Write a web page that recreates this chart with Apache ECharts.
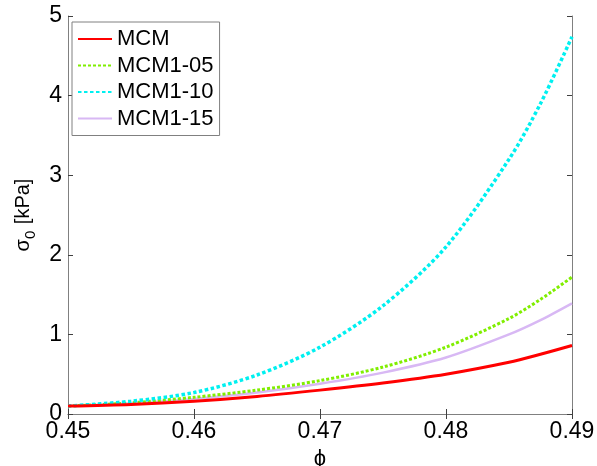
<!DOCTYPE html>
<html>
<head>
<meta charset="utf-8">
<script src="https://cdn.jsdelivr.net/npm/echarts@6/dist/echarts.min.js"></script>
<style>html,body{margin:0;padding:0;background:#fff}#c{width:597px;height:466px}</style>
</head>
<body>
<div id="c"></div>
<script>
const phi    = [0.45, 0.455, 0.46, 0.465, 0.47, 0.475, 0.48, 0.485, 0.4875, 0.49];
const mcm    = [0.10, 0.12, 0.16, 0.22, 0.30, 0.39, 0.50, 0.65, 0.75, 0.86];
const mcm105 = [0.10, 0.14, 0.21, 0.30, 0.42, 0.59, 0.84, 1.20, 1.44, 1.72];
const mcm110 = [0.10, 0.16, 0.27, 0.49, 0.84, 1.36, 2.10, 3.20, 3.90, 4.74];
const mcm115 = [0.10, 0.135, 0.19, 0.27, 0.38, 0.52, 0.71, 1.00, 1.18, 1.39];
const names = ['MCM', 'MCM1-05', 'MCM1-10', 'MCM1-15'];
const xTicks = [0.45, 0.46, 0.47, 0.48, 0.49];
const yTicks = [0, 1, 2, 3, 4, 5];

const FONT = '"Liberation Sans", Arial, sans-serif';
const pair = (ys) => phi.map((x, i) => [x, ys[i]]);
const chart = echarts.init(document.getElementById('c'), null, {renderer: 'canvas'});

const axisLine = {show: true, lineStyle: {color: '#808080', width: 1}};
const axisTick = {show: true, inside: true, length: 5, lineStyle: {color: '#404040'}};

chart.setOption({
  animation: false,
  backgroundColor: '#fff',
  grid: {left: 68, right: 25, top: 16, bottom: 52, containLabel: false, outerBoundsMode: 'none'},
  legend: {
    orient: 'vertical', left: 72, top: 22,
    data: names,
    backgroundColor: '#fff',
    borderColor: '#808080', borderWidth: 1,
    padding: [6, 6, 6, 5],
    itemWidth: 34, itemHeight: 14, itemGap: 4.5, itemTextGap: 4,
    itemStyle: {opacity: 0},
    textStyle: {fontFamily: FONT, fontSize: 22, color: '#000', lineHeight: 22}
  },
  xAxis: [{
    type: 'value', min: xTicks[0], max: xTicks[xTicks.length - 1], interval: 0.01,
    axisLine, axisTick, splitLine: {show: false},
    axisLabel: {color: '#000', fontFamily: FONT, fontSize: 23, margin: 6,
      formatter: v => v.toFixed(2)},
    name: 'ϕ', nameLocation: 'middle', nameGap: 32,
    nameTextStyle: {color: '#000', fontFamily: FONT, fontSize: 22}
  }, {
    type: 'value', position: 'top', min: xTicks[0], max: xTicks[xTicks.length - 1], interval: 0.01,
    axisLine, axisTick, axisLabel: {show: false}, splitLine: {show: false}
  }],
  yAxis: [{
    type: 'value', min: yTicks[0], max: yTicks[yTicks.length - 1], interval: 1,
    axisLine, axisTick, splitLine: {show: false},
    axisLabel: {color: '#000', fontFamily: FONT, fontSize: 23, margin: 6},
    name: '{a|σ}{b|0}{a| [kPa]}', nameLocation: 'middle', nameGap: 29, nameRotate: 90,
    nameTextStyle: {color: '#000', fontFamily: FONT, fontSize: 20,
      rich: {
        a: {fontFamily: FONT, fontSize: 20, color: '#000', lineHeight: 30, verticalAlign: 'middle'},
        b: {fontFamily: FONT, fontSize: 15, color: '#000', lineHeight: 30, verticalAlign: 'bottom', padding: [0, 1, 0, 0]}
      }}
  }, {
    type: 'value', position: 'right', min: yTicks[0], max: yTicks[yTicks.length - 1], interval: 1,
    axisLine, axisTick, axisLabel: {show: false}, splitLine: {show: false}
  }],
  series: [
    {name: names[0], type: 'line', data: pair(mcm), smooth: 0.3, showSymbol: false, symbol: 'none', z: 4,
      lineStyle: {color: '#ff0000', width: 3}, itemStyle: {color: '#ff0000'}},
    {name: names[1], type: 'line', data: pair(mcm105), smooth: 0.3, showSymbol: false, symbol: 'none', z: 3,
      lineStyle: {color: '#80ee00', width: 3, type: [3, 2]}, itemStyle: {color: '#80ee00'}},
    {name: names[2], type: 'line', data: pair(mcm110), smooth: 0.3, showSymbol: false, symbol: 'none', z: 3,
      lineStyle: {color: '#00f0f0', width: 3.5, type: [3.5, 2.5]}, itemStyle: {color: '#00f0f0'}},
    {name: names[3], type: 'line', data: pair(mcm115), smooth: 0.3, showSymbol: false, symbol: 'none', z: 2,
      lineStyle: {color: '#d8b8f4', width: 2.5}, itemStyle: {color: '#d8b8f4'}}
  ]
});
</script>
</body>
</html>
